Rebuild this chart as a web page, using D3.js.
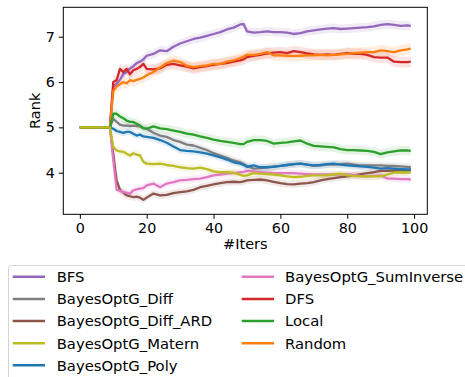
<!DOCTYPE html>
<html>
<head>
<meta charset="utf-8">
<script src="https://cdn.jsdelivr.net/npm/d3@7"></script>
<style>
  html, body { margin: 0; padding: 0; background: #fff; }
  svg { display: block; font-family: "DejaVu Sans", sans-serif; }
</style>
</head>
<body>
<svg id="chart" width="465" height="377"></svg>
<script>
// Iterations at which the mean rank was recorded
const iters = [0, 9, 10, 11, 12, 13, 14, 15, 16, 17, 18, 19, 20, 22, 24, 26, 28, 30, 32, 34, 36, 38, 40, 42, 44, 46, 48, 49,
  50, 52, 54, 56, 58, 60, 62, 64, 66, 68, 70, 72, 74, 76, 78, 80, 82, 84, 86, 88, 90, 92, 94, 96, 98, 99];

const bfs = [5, 5, 5.9, 5.96, 6.05, 6.18, 6.22, 6.3, 6.35, 6.42, 6.45, 6.5, 6.58, 6.62, 6.7, 6.68, 6.78, 6.85, 6.9, 6.95, 6.98, 7.02, 7.06, 7.1, 7.16, 7.2, 7.27, 7.28,
  7.12, 7.09, 7.1, 7.12, 7.1, 7.1, 7.09, 7.06, 7.08, 7.12, 7.14, 7.16, 7.18, 7.19, 7.17, 7.18, 7.19, 7.2, 7.21, 7.23, 7.26, 7.28, 7.26, 7.24, 7.25, 7.24];
const bayesDiff = [5, 5, 5.19, 5.12, 5.06, 5.04, 5.04, 5.03, 5.04, 5.03, 5.02, 4.99, 4.97, 4.88, 4.82, 4.79, 4.72, 4.68, 4.62, 4.6, 4.55, 4.5, 4.43, 4.38, 4.33, 4.27, 4.23, 4.19,
  4.15, 4.09, 4.1, 4.12, 4.14, 4.15, 4.17, 4.19, 4.2, 4.18, 4.15, 4.16, 4.18, 4.18, 4.19, 4.2, 4.18, 4.16, 4.16, 4.16, 4.16, 4.15, 4.15, 4.14, 4.13, 4.12];
const bayesDiffArd = [5, 5, 4.42, 3.83, 3.62, 3.56, 3.5, 3.48, 3.46, 3.47, 3.45, 3.4, 3.45, 3.54, 3.5, 3.51, 3.55, 3.57, 3.59, 3.62, 3.68, 3.71, 3.74, 3.77, 3.79, 3.8, 3.79, 3.81,
  3.83, 3.84, 3.85, 3.83, 3.8, 3.77, 3.75, 3.74, 3.76, 3.77, 3.79, 3.83, 3.86, 3.88, 3.9, 3.92, 3.94, 3.97, 3.99, 4.01, 4.04, 4.04, 4.05, 4.04, 4.05, 4.05];
const bayesMatern = [5, 5, 4.57, 4.49, 4.47, 4.46, 4.42, 4.38, 4.43, 4.4, 4.38, 4.24, 4.2, 4.19, 4.2, 4.17, 4.15, 4.12, 4.1, 4.09, 4.11, 4.08, 4.03, 4.01, 4.01, 4.0, 3.95, 3.93,
  3.94, 3.99, 3.98, 3.97, 3.96, 3.94, 3.92, 3.9, 3.91, 3.93, 3.94, 3.94, 3.94, 3.96, 3.98, 3.94, 3.93, 3.92, 3.92, 3.92, 3.92, 3.96, 4.0, 4.01, 4.0, 4.01];
const bayesPoly = [5, 5, 4.97, 4.92, 4.9, 4.88, 4.9, 4.9, 4.86, 4.82, 4.84, 4.8, 4.79, 4.77, 4.72, 4.66, 4.58, 4.5, 4.48, 4.47, 4.45, 4.42, 4.38, 4.34, 4.29, 4.23, 4.2, 4.17,
  4.13, 4.16, 4.12, 4.12, 4.13, 4.15, 4.17, 4.19, 4.2, 4.18, 4.16, 4.17, 4.19, 4.2, 4.18, 4.16, 4.15, 4.14, 4.13, 4.11, 4.09, 4.1, 4.09, 4.08, 4.07, 4.07];
const bayesSumInverse = [5, 5, 4.27, 3.62, 3.6, 3.57, 3.56, 3.54, 3.61, 3.63, 3.65, 3.66, 3.72, 3.76, 3.68, 3.76, 3.79, 3.83, 3.84, 3.86, 3.87, 3.9, 3.94, 3.96, 3.98, 3.99, 4.01, 4.02,
  4.04, 4.03, 4.01, 4.0, 3.99, 3.99, 3.99, 3.99, 3.98, 3.97, 3.96, 3.96, 3.96, 3.96, 3.96, 3.96, 3.95, 3.93, 3.92, 3.93, 3.94, 3.87, 3.87, 3.86, 3.86, 3.85];
const dfs = [5, 5, 6.0, 6.04, 6.29, 6.22, 6.29, 6.17, 6.26, 6.29, 6.33, 6.4, 6.29, 6.28, 6.3, 6.38, 6.4, 6.37, 6.34, 6.3, 6.33, 6.35, 6.38, 6.4, 6.42, 6.45, 6.48, 6.5,
  6.55, 6.58, 6.6, 6.63, 6.65, 6.66, 6.64, 6.68, 6.66, 6.63, 6.61, 6.6, 6.61, 6.6, 6.62, 6.64, 6.62, 6.62, 6.6, 6.55, 6.54, 6.54, 6.45, 6.44, 6.44, 6.45];
const local = [5, 5, 5.3, 5.3, 5.24, 5.2, 5.15, 5.12, 5.12, 5.08, 5.04, 4.98, 4.97, 5.02, 4.98, 4.96, 4.93, 4.9, 4.86, 4.84, 4.8, 4.77, 4.73, 4.7, 4.68, 4.66, 4.63, 4.63,
  4.68, 4.72, 4.72, 4.7, 4.64, 4.66, 4.67, 4.69, 4.71, 4.64, 4.59, 4.58, 4.57, 4.56, 4.52, 4.5, 4.5, 4.49, 4.48, 4.46, 4.41, 4.45, 4.47, 4.49, 4.49, 4.48];
const random = [5, 5, 5.8, 5.9, 5.95, 6.0, 5.97, 6.04, 6.02, 6.05, 6.07, 6.1, 6.15, 6.22, 6.32, 6.42, 6.47, 6.44, 6.36, 6.33, 6.35, 6.37, 6.4, 6.4, 6.45, 6.48, 6.53, 6.56,
  6.6, 6.6, 6.62, 6.66, 6.59, 6.59, 6.58, 6.57, 6.58, 6.59, 6.59, 6.6, 6.59, 6.6, 6.61, 6.62, 6.64, 6.65, 6.66, 6.66, 6.7, 6.68, 6.66, 6.7, 6.72, 6.74];

// Half-width of the shaded spread around each mean
const spreadBfs = 0.1, spreadDiff = 0.08, spreadDiffArd = 0.08, spreadMatern = 0.08, spreadPoly = 0.08,
      spreadSumInverse = 0.08, spreadDfs = 0.12, spreadLocal = 0.1, spreadRandom = 0.12;

const xTicks = [0, 20, 40, 60, 80, 100];
const yTicks = [4, 5, 6, 7];

// Legend order (two columns, filled column-wise)
const series = [
  { name: "BFS", values: bfs, spread: spreadBfs, color: "#9467bd" },
  { name: "BayesOptG_Diff", values: bayesDiff, spread: spreadDiff, color: "#7f7f7f" },
  { name: "BayesOptG_Diff_ARD", values: bayesDiffArd, spread: spreadDiffArd, color: "#8c564b" },
  { name: "BayesOptG_Matern", values: bayesMatern, spread: spreadMatern, color: "#bcbd22" },
  { name: "BayesOptG_Poly", values: bayesPoly, spread: spreadPoly, color: "#1f77b4" },
  { name: "BayesOptG_SumInverse", values: bayesSumInverse, spread: spreadSumInverse, color: "#e377c2" },
  { name: "DFS", values: dfs, spread: spreadDfs, color: "#d62728" },
  { name: "Local", values: local, spread: spreadLocal, color: "#2ca02c" },
  { name: "Random", values: random, spread: spreadRandom, color: "#ff7f0e" }
];
// Painting order of the curves (last on top)
const drawOrder = ["BFS", "BayesOptG_Diff", "BayesOptG_Diff_ARD", "BayesOptG_Poly", "BayesOptG_SumInverse",
  "DFS", "Random", "Local", "BayesOptG_Matern"];

const svg = d3.select("#chart");
const plot = { left: 63.3, right: 427.3, top: 7.3, bottom: 214.3 };

const x = d3.scaleLinear().domain([-4.95, 103.95]).range([plot.left, plot.right]);
const y = d3.scaleLinear().domain([3.082, 7.649]).range([plot.bottom, plot.top]);

svg.append("clipPath").attr("id", "plotClip")
  .append("rect").attr("x", plot.left).attr("y", plot.top)
  .attr("width", plot.right - plot.left).attr("height", plot.bottom - plot.top);

const g = svg.append("g").attr("clip-path", "url(#plotClip)");

const area = d3.area()
  .x((d, i) => x(iters[i]))
  .y0(d => y(d.v - d.s))
  .y1(d => y(d.v + d.s));
const line = d3.line()
  .x((d, i) => x(iters[i]))
  .y(d => y(d));

const ordered = drawOrder.map(n => series.find(s => s.name === n));

ordered.forEach(s => {
  const pts = s.values.map((v, i) => ({ v, s: iters[i] < 10 ? 0 : s.spread }));
  g.append("path").datum(pts).attr("d", area)
    .attr("fill", s.color).attr("fill-opacity", 0.13).attr("stroke", "none");
});
ordered.forEach(s => {
  g.append("path").datum(s.values).attr("d", line)
    .attr("fill", "none").attr("stroke", s.color).attr("stroke-width", 2.3)
    .attr("stroke-linejoin", "round");
});

// Axes
const xAxis = svg.append("g").attr("transform", `translate(0,${plot.bottom})`)
  .call(d3.axisBottom(x).tickValues(xTicks).tickSize(4.5).tickPadding(4).tickFormat(d3.format("d")));
const yAxis = svg.append("g").attr("transform", `translate(${plot.left},0)`)
  .call(d3.axisLeft(y).tickValues(yTicks).tickSize(4.5).tickPadding(4).tickFormat(d3.format("d")));
[xAxis, yAxis].forEach(a => {
  a.select(".domain").remove();
  a.selectAll("text").attr("font-size", 14.3).attr("fill", "#000").attr("font-family", "DejaVu Sans");
  a.selectAll("line").attr("stroke", "#000").attr("stroke-width", 1);
});

// Frame
svg.append("rect").attr("x", plot.left).attr("y", plot.top)
  .attr("width", plot.right - plot.left).attr("height", plot.bottom - plot.top)
  .attr("fill", "none").attr("stroke", "#000").attr("stroke-width", 1);

// Axis titles
svg.append("text").attr("x", (plot.left + plot.right) / 2).attr("y", 249)
  .attr("text-anchor", "middle").attr("font-size", 14.5).text("#Iters");
svg.append("text").attr("transform", `translate(40,${(plot.top + plot.bottom) / 2}) rotate(-90)`)
  .attr("text-anchor", "middle").attr("font-size", 14.5).text("Rank");

// Legend
const legend = svg.append("g");
legend.append("rect").attr("x", 8.5).attr("y", 265.5).attr("width", 470).attr("height", 130)
  .attr("rx", 3).attr("fill", "#fff").attr("fill-opacity", 0.8).attr("stroke", "#d4d4d4").attr("stroke-width", 1);
const rowY = [276.7, 299, 321, 343.2, 365.3];
const colX = [{ h0: 12.7, h1: 45, t: 56.7 }, { h0: 241.7, h1: 274, t: 285 }];
series.forEach((s, i) => {
  const c = colX[i < 5 ? 0 : 1];
  const ry = rowY[i < 5 ? i : i - 5];
  legend.append("line").attr("x1", c.h0).attr("x2", c.h1).attr("y1", ry).attr("y2", ry)
    .attr("stroke", s.color).attr("stroke-width", 2.4);
  legend.append("text").attr("x", c.t).attr("y", ry).attr("dy", "0.36em")
    .attr("font-size", 14.8).attr("fill", "#000").text(s.name);
});
</script>
</body>
</html>
